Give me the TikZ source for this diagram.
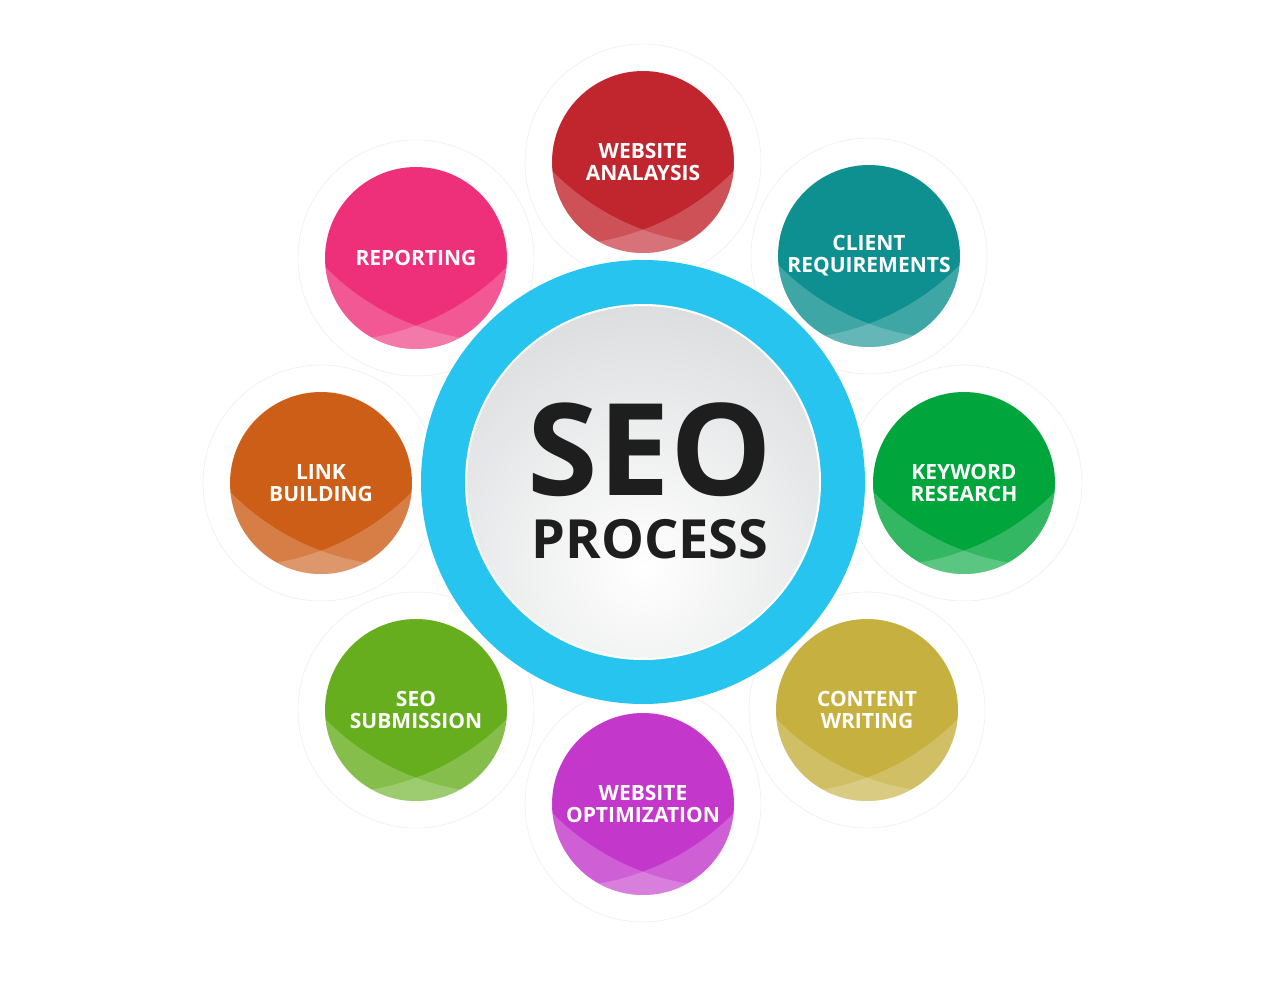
\documentclass[tikz,border=0pt]{standalone}
\usepackage{fontspec}
\setmainfont{Open Sans}
\usetikzlibrary{calc}

\definecolor{seoblue}{RGB}{38,196,238}
\definecolor{coregray}{RGB}{192,195,197}
\definecolor{seotext}{RGB}{30,30,30}
\definecolor{satred}{RGB}{193,38,46}
\definecolor{satteal}{RGB}{15,144,144}
\definecolor{satgreen}{RGB}{0,165,60}
\definecolor{satolive}{RGB}{198,176,63}
\definecolor{satmagenta}{RGB}{196,55,203}
\definecolor{satlime}{RGB}{103,174,30}
\definecolor{satorange}{RGB}{204,94,23}
\definecolor{satpink}{RGB}{238,47,122}

\tikzset{
  halo/.style={circle, minimum size=177pt, inner sep=0pt, fill=white, draw=black!6, line width=0.5pt},
  sat/.style={circle, minimum size=136.5pt, inner sep=0pt, fill=#1, text=white, align=center,
    font=\bfseries\fontsize{15.75}{16.3}\selectfont},
  gloss/.style={white, fill opacity=0.2, even odd rule},
}

\begin{document}
\begin{tikzpicture}[x=0.75pt,y=0.75pt,yscale=-1,xscale=1]
\useasboundingbox (0,0) rectangle (1285,998);

%Shape: Circle [halos]
\node[halo] (haloAnalysis) at (643,162) {};
\node[halo] (haloClient) at (869,256) {};
\node[halo] (haloKeyword) at (964,483) {};
\node[halo] (haloContent) at (867,710) {};
\node[halo] (haloOptim) at (643,804) {};
\node[halo] (haloSubmission) at (416,710) {};
\node[halo] (haloLink) at (321,483) {};
\node[halo] (haloReporting) at (416,258) {};

%Shape: Circle [blue ring and core]
\node[circle, fill=seoblue, minimum size=333pt, inner sep=0pt] (ring) at (643,482) {};
\node[circle, minimum size=265.5pt, inner sep=0pt] (core) at (643,482) {};
\begin{scope}
\clip (core.center) circle (177);
\shade[inner color=white, outer color=coregray] ($(core.center)+(0,85)$) circle (470);
\end{scope}
\draw[white, line width=1.5] (core.center) circle (177);

% Text Node
\node[font=\bfseries\fontsize{96}{96}\selectfont, text=seotext, anchor=base, inner sep=0pt, text depth=0pt] (seo) at (650,495) {SEO};
% Text Node
\node[font=\bfseries\fontsize{40.5}{40.5}\selectfont, text=seotext, anchor=base, inner sep=0pt, text height=29pt, text depth=0pt] (process) at (650,558) {PROCESS};

%Shape: Circle [website analysis]
\node[sat=satred] (analysis) at (643,162) {WEBSITE\\ANALAYSIS};
\begin{scope}
\clip (analysis.center) circle (91);
\fill[gloss] (analysis.center) circle (91) ($(analysis.center)+(-86,-165)$) circle (248);
\fill[gloss] (analysis.center) circle (91) ($(analysis.center)+(86,-165)$) circle (248);
\end{scope}

%Shape: Circle [client requirements]
\node[sat=satteal] (client) at (869,256) {CLIENT\\REQUIREMENTS};
\begin{scope}
\clip (client.center) circle (91);
\fill[gloss] (client.center) circle (91) ($(client.center)+(-86,-165)$) circle (248);
\fill[gloss] (client.center) circle (91) ($(client.center)+(86,-165)$) circle (248);
\end{scope}

%Shape: Circle [keyword research]
\node[sat=satgreen] (keyword) at (964,483) {KEYWORD\\RESEARCH};
\begin{scope}
\clip (keyword.center) circle (91);
\fill[gloss] (keyword.center) circle (91) ($(keyword.center)+(-86,-165)$) circle (248);
\fill[gloss] (keyword.center) circle (91) ($(keyword.center)+(86,-165)$) circle (248);
\end{scope}

%Shape: Circle [content writing]
\node[sat=satolive] (content) at (867,710) {CONTENT\\WRITING};
\begin{scope}
\clip (content.center) circle (91);
\fill[gloss] (content.center) circle (91) ($(content.center)+(-86,-165)$) circle (248);
\fill[gloss] (content.center) circle (91) ($(content.center)+(86,-165)$) circle (248);
\end{scope}

%Shape: Circle [website optimization]
\node[sat=satmagenta] (optim) at (643,804) {WEBSITE\\OPTIMIZATION};
\begin{scope}
\clip (optim.center) circle (91);
\fill[gloss] (optim.center) circle (91) ($(optim.center)+(-86,-165)$) circle (248);
\fill[gloss] (optim.center) circle (91) ($(optim.center)+(86,-165)$) circle (248);
\end{scope}

%Shape: Circle [seo submission]
\node[sat=satlime] (submission) at (416,710) {SEO\\SUBMISSION};
\begin{scope}
\clip (submission.center) circle (91);
\fill[gloss] (submission.center) circle (91) ($(submission.center)+(-86,-165)$) circle (248);
\fill[gloss] (submission.center) circle (91) ($(submission.center)+(86,-165)$) circle (248);
\end{scope}

%Shape: Circle [link building]
\node[sat=satorange] (link) at (321,483) {LINK\\BUILDING};
\begin{scope}
\clip (link.center) circle (91);
\fill[gloss] (link.center) circle (91) ($(link.center)+(-86,-165)$) circle (248);
\fill[gloss] (link.center) circle (91) ($(link.center)+(86,-165)$) circle (248);
\end{scope}

%Shape: Circle [reporting]
\node[sat=satpink] (reporting) at (416,258) {REPORTING};
\begin{scope}
\clip (reporting.center) circle (91);
\fill[gloss] (reporting.center) circle (91) ($(reporting.center)+(-86,-165)$) circle (248);
\fill[gloss] (reporting.center) circle (91) ($(reporting.center)+(86,-165)$) circle (248);
\end{scope}

\end{tikzpicture}
\end{document}
